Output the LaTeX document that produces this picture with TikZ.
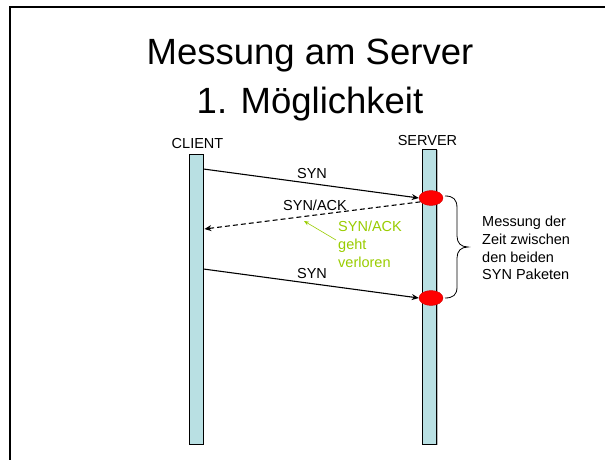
\documentclass[tikz,border=0pt]{standalone}
\usepackage{fontspec}
\setmainfont{Liberation Sans}
\usetikzlibrary{arrows.meta,shapes.geometric}
\definecolor{barfill}{RGB}{185,224,227}
\definecolor{lostgreen}{RGB}{153,204,0}
\tikzset{
  lifeline/.style={draw=black,line width=0.8pt,fill=barfill,inner sep=0pt,minimum width=14pt},
  barshadow/.style={fill=black!28,draw=none},
  event/.style={ellipse,fill=red,draw=red!80!black,line width=0.4pt,minimum width=24pt,minimum height=15pt,inner sep=0pt},
  msg/.style={line width=1.1pt,-{Stealth[length=7pt,width=6pt]}},
  lostmsg/.style={msg,dash pattern=on 5pt off 3pt},
  lbl/.style={font=\fontsize{14.5}{17}\selectfont,inner sep=0pt,anchor=base},
  note/.style={font=\fontsize{14.5}{17.7}\selectfont,inner sep=0pt,align=left,anchor=north west},
  ttl/.style={font=\fontsize{36.5}{36}\selectfont,inner sep=0pt,anchor=base}
}
\begin{document}
\begin{tikzpicture}[x=1pt,y=-1pt]
\useasboundingbox (0,0) rectangle (605,460);
% slide frame
\draw[line width=2pt] (10,461) -- (10,7.5) -- (606,7.5);
% title
\node[ttl] (t1) at (310,64.5) {Messung am Server};
\node[ttl] (t2) at (310,113.5) {1. Möglichkeit};
% lifelines with a soft shadow
\fill[barshadow] (190,155) rectangle (204.2,445.2);
\fill[barshadow] (423.5,150) rectangle (438.2,445.2);
\node[lifeline,minimum height=290pt] (client) at (196,299) {};
\node[lifeline,minimum height=295pt] (server) at (429.5,296.5) {};
\node[lbl] (cl) at (197.5,148) {CLIENT};
\node[lbl] (sv) at (427.5,145) {SERVER};
% endpoints on the client lifeline
\coordinate (c1) at (client.east |- 0,169);
\coordinate (c2) at (client.east |- 0,229);
\coordinate (c3) at (client.east |- 0,269);
% events at the server
\node[event] (e1) at (431,198) {};
\node[event] (e2) at (431,298) {};
% messages
\draw[msg] (c1) -- (e1.west);
\draw[lostmsg] (e1.200) -- ([xshift=1pt]c2);
\draw[msg] (c3) -- (e2.west);
\node[lbl] (m1) at (312,178) {SYN};
\node[lbl] (m2) at (315,210) {SYN/ACK};
\node[lbl] (m3) at (312,278) {SYN};
% lost packet remark
\node[note,text=lostgreen,font=\fontsize{14.5}{18}\selectfont] (lost) at (338,221) {SYN/ACK\\geht\\verloren};
\coordinate (lp) at (304,221);
\draw[lostgreen,line width=0.6pt,-{Stealth[length=5pt,width=4pt]}] (336,240) -- (lp);
% measured interval
\draw[line width=0.8pt] (445,196) .. controls (453,196) and (457,199) .. (457,208)
  -- (457,236) .. controls (457,243) and (461,247) .. (468,247)
  .. controls (461,247) and (457,251) .. (457,258)
  -- (457,287) .. controls (457,295) and (453,298) .. (445,298);
\coordinate (tip) at (468,247);
\node[note] (meas) at (482,216) {Messung der\\Zeit zwischen\\den beiden\\SYN Paketen};
\end{tikzpicture}
\end{document}
